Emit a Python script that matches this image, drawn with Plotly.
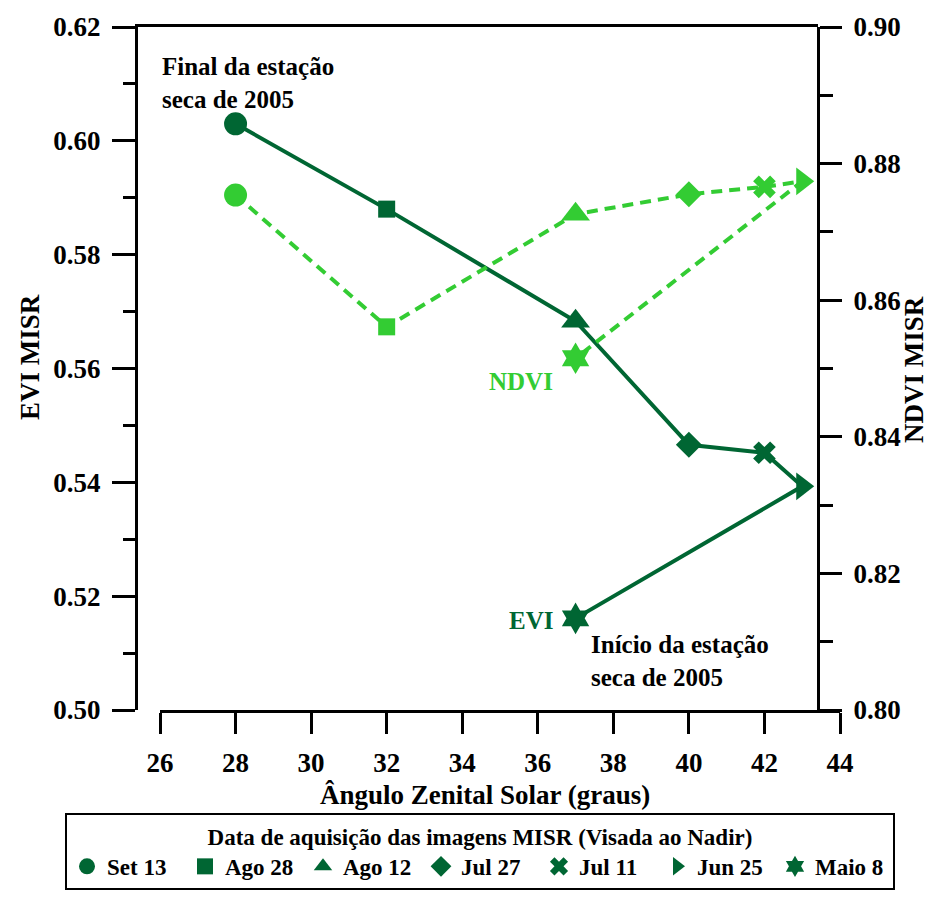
import plotly.graph_objects as go

# Solar zenith angle (degrees) for each MISR nadir acquisition, in path order
angles = [28, 32, 37, 40, 42, 43, 37]
evi = [0.603, 0.588, 0.5683, 0.5466, 0.5452, 0.5393, 0.5161]
ndvi = [0.8754, 0.8561, 0.8726, 0.8755, 0.8766, 0.8774, 0.8515]
dates = ["Set 13", "Ago 28", "Ago 12", "Jul 27", "Jul 11", "Jun 25", "Maio 8"]
symbols = ["circle", "square", "triangle-up", "diamond", "x", "triangle-right", "hexagram"]
sizes = [23, 17, 25, 20, 20, 24, 24]

x_ticks = list(range(26, 46, 2))

DARK = "#006633"
LIGHT = "#33CC33"
FONT = "Liberation Serif"

W, H = 930, 903
ML, MR, MT, MB = 138, 90, 27, 193
PW = W - ML - MR          # plot area width in px
PH = H - MT - MB
FRAME = 680 / PW          # framed box ends where the right axis sits
SHIFT = 22 / PW           # bottom tick axis is offset to the right
px_per_unit = 680 / 18

def fnt(size, color="black"):
    return dict(family=FONT, size=size, color=color, weight="bold")

fig = go.Figure()

fig.add_trace(go.Scatter(
    x=angles, y=ndvi, yaxis="y2", mode="lines+markers", showlegend=False,
    line=dict(color=LIGHT, width=4, dash="11px,7px"),
    marker=dict(symbol=symbols, size=sizes, color=LIGHT, opacity=1,
                line=dict(width=0)),
))
fig.add_trace(go.Scatter(
    x=angles, y=evi, mode="lines+markers", showlegend=False,
    line=dict(color=DARK, width=4),
    marker=dict(symbol=symbols, size=sizes, color=DARK, opacity=1,
                line=dict(width=0)),
))

# Legend entries: one per acquisition date
for d, s in zip(dates, symbols):
    fig.add_trace(go.Scatter(
        x=[None], y=[None], xaxis="x2", mode="markers", name=d,
        marker=dict(symbol=s, size=16, color=DARK),
    ))

x_lo = 26 - 22 / px_per_unit
fig.update_layout(
    width=W, height=H,
    margin=dict(l=ML, r=MR, t=MT, b=MB),
    paper_bgcolor="white", plot_bgcolor="rgba(0,0,0,0)",
    font=fnt(24),
    xaxis=dict(domain=[0, FRAME], range=[x_lo, x_lo + 18], side="top",
               showline=True, linecolor="black", linewidth=3,
               ticks="", showticklabels=False, showgrid=False, zeroline=False),
    xaxis2=dict(domain=[SHIFT, 1], range=[26, 44], anchor="y", side="bottom",
                showline=True, linecolor="black", linewidth=3,
                ticks="outside", ticklen=21, tickwidth=3, tickcolor="black",
                tickvals=x_ticks, tickfont=fnt(27), ticklabelstandoff=6,
                showgrid=False, zeroline=False),
    yaxis=dict(domain=[0, 1], range=[0.50, 0.62], anchor="x", side="left",
               showline=True, linecolor="black", linewidth=3,
               ticks="outside", ticklen=23, tickwidth=3, tickcolor="black",
               tick0=0.50, dtick=0.02, tickformat=".2f", tickfont=fnt(27),
               ticklabelstandoff=6,
               minor=dict(ticks="outside", tick0=0.50, dtick=0.01, ticklen=12,
                          tickwidth=3, tickcolor="black"),
               showgrid=False, zeroline=False),
    yaxis2=dict(overlaying="y", anchor="free", position=FRAME, side="right",
                range=[0.80, 0.90],
                showline=True, linecolor="black", linewidth=3,
                ticks="outside", ticklen=22, tickwidth=3, tickcolor="black",
                tick0=0.80, dtick=0.02, tickformat=".2f", tickfont=fnt(27),
                ticklabelstandoff=6,
                minor=dict(ticks="outside", tick0=0.80, dtick=0.01, ticklen=13,
                           tickwidth=3, tickcolor="black"),
                showgrid=False, zeroline=False),
    legend=dict(
        orientation="h", x=(65 - ML) / PW, xanchor="left",
        y=-(813 - (H - MB)) / PH, yanchor="top",
        bordercolor="black", borderwidth=2, bgcolor="white",
        font=fnt(23), entrywidth=73, entrywidthmode="pixels",
        itemsizing="trace", tracegroupgap=0,
        title=dict(text="Data de aquisição das imagens MISR (Visada ao Nadir)",
                   side="top center", font=fnt(23)),
    ),
)

annotations = [
    dict(text="Final da estação<br>seca de 2005", x=26.0, y=0.6158,
         xref="x", yref="y", xanchor="left", yanchor="top", align="left",
         font=fnt(25)),
    dict(text="Início da estação<br>seca de 2005", x=37.35, y=0.5143,
         xref="x", yref="y", xanchor="left", yanchor="top", align="left",
         font=fnt(25)),
    dict(text="NDVI", x=36.45, y=0.5578, xref="x", yref="y",
         xanchor="right", yanchor="middle", font=fnt(25, LIGHT)),
    dict(text="EVI", x=36.45, y=0.5158, xref="x", yref="y",
         xanchor="right", yanchor="middle", font=fnt(25, DARK)),
    dict(text="Ângulo Zenital Solar (graus)", x=(485 - ML) / PW,
         y=-(795 - (H - MB)) / PH, xref="paper", yref="paper",
         xanchor="center", yanchor="middle", font=fnt(27)),
    dict(text="EVI MISR", x=(30 - ML) / PW, y=((H - MB) - 357) / PH,
         xref="paper", yref="paper", xanchor="center", yanchor="middle",
         textangle=-90, font=fnt(27)),
    dict(text="NDVI MISR", x=(914 - ML) / PW, y=((H - MB) - 370) / PH,
         xref="paper", yref="paper", xanchor="center", yanchor="middle",
         textangle=-90, font=fnt(27)),
]
for a in annotations:
    a["showarrow"] = False
    fig.add_annotation(**a)

fig.write_html("out.html")
